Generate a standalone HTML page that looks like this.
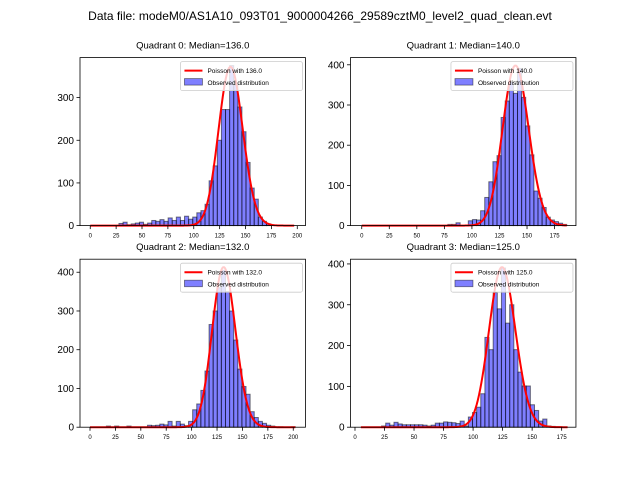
<!DOCTYPE html>
<html><head><meta charset="utf-8"><style>
body{margin:0;background:#fff;}
svg{display:block;font-family:"Liberation Sans","DejaVu Sans",sans-serif;}
</style></head><body>
<svg id="fig" width="640" height="480" viewBox="0 0 640 480">
<rect width="640" height="480" fill="#fff"/>
<text x="320" y="20" text-anchor="middle" font-size="12">Data file: modeM0/AS1A10_093T01_9000004266_29589cztM0_level2_quad_clean.evt</text>
</svg>
<script>
// ---- data ----
const q0Counts=[0,0,0,0,0,0,0,5,8,2,4,6,8,3,6,12,10,14,10,18,12,20,12,22,15,20,30,35,50,105,140,200,272,272,375,330,278,220,148,88,62,20,10,4,0,0,0,0,0,0];
const q1Counts=[0,0,0,0,0,0,0,0,0,0,0,0,0,0,0,0,0,0,0,0,0,3,3,7,0,0,12,15,14,37,70,109,159,174,269,310,358,329,391,319,248,176,86,68,45,21,14,10,6,3];
const q2Counts=[0,0,0,0,3,0,3,0,0,3,0,0,0,0,5,4,5,8,6,15,3,15,8,4,15,45,60,95,145,265,300,360,405,350,300,225,150,105,85,40,25,15,10,5,3,1,1,0,0,1];
const q3Counts=[0,0,0,0,0,3,10,5,12,8,6,6,6,6,6,5,3,5,10,10,13,12,11,9,15,3,25,36,49,82,220,190,330,290,390,255,300,190,135,101,101,55,41,15,20,3,2,1,0,0];
const medians=[136.0,140.0,132.0,125.0];
const curvePeaks=[372,398,413,392];
const binStarts=[0,0,0,5];
const binWidths=[3.96,3.72,4.04,3.5];
const curveRanges=[[0,197],[0,186],[0,202],[5,180]];
const xTicks=[[0,25,50,75,100,125,150,175,200],[0,25,50,75,100,125,150,175],[0,25,50,75,100,125,150,175,200],[0,25,50,75,100,125,150,175]];
const yTicks=[[0,100,200,300],[0,100,200,300,400],[0,100,200,300,400],[0,100,200,300,400]];
const xLims=[[-9.9,207.9],[-10.2,194.4],[-9.84,212],[-3.8,187.1]];
const allCounts=[q0Counts,q1Counts,q2Counts,q3Counts];

const NS="http://www.w3.org/2000/svg";
const svg=document.getElementById('fig');
function mk(tag,attrs,parent){const e=document.createElementNS(NS,tag);for(const k in attrs)e.setAttribute(k,attrs[k]);(parent||svg).appendChild(e);return e;}
function lgamma(n){let s=0;for(let i=2;i<=n;i++)s+=Math.log(i);return s;}
function pmf(k,l){return Math.exp(k*Math.log(l)-l-lgamma(k));}

const boxes=[[80,57.6],[350.5,57.6],[80,259.2],[350.5,259.2]];
const W=225.45,H=168;
for(let q=0;q<4;q++){
  const [L,T]=boxes[q];
  const counts=allCounts[q];
  const lam=medians[q];
  const scale=curvePeaks[q]/pmf(Math.floor(lam),lam);
  const cr=curveRanges[q];
  const pts=[];
  for(let k=cr[0];k<=cr[1];k++)pts.push([k,scale*pmf(k,lam)]);
  let ymax=Math.max(Math.max(...counts),Math.max(...pts.map(p=>p[1])))*1.05;
  const [x0,x1]=xLims[q];
  const X=v=>L+(v-x0)/(x1-x0)*W;
  const Y=v=>T+H-v/ymax*H;
  const g=mk('g',{});
  
  
  const title=mk('text',{x:L+W/2,y:T-9,'text-anchor':'middle','font-size':'9.5'},g);
  title.textContent='Quadrant '+q+': Median='+lam.toFixed(1);
  
  
  for(let i=0;i<counts.length;i++){
    if(counts[i]<=0)continue;
    const a=binStarts[q]+i*binWidths[q],b=a+binWidths[q];
    const r=mk('rect',{x:X(a),y:Y(counts[i]),width:X(b)-X(a),height:Y(0)-Y(counts[i]),fill:'rgba(0,0,255,0.5)',stroke:'rgba(0,0,0,0.5)','stroke-width':'1'},g);
    
    
  }
  const pl=mk('polyline',{points:pts.map(p=>X(p[0]).toFixed(2)+','+Y(p[1]).toFixed(2)).join(' '),fill:'none',stroke:'#ff0000','stroke-width':'2','stroke-linejoin':'round'},g);
  
  
  const fr=mk('rect',{x:L,y:T,width:W,height:H,fill:'none',stroke:'#000','stroke-width':'0.8'},g);
  
  
  for(const t of xTicks[q]){
    mk('line',{x1:X(t),x2:X(t),y1:T+H,y2:T+H+3.5,stroke:'#000','stroke-width':'0.8'},g);
    const tx=mk('text',{x:X(t),y:T+H+12,'text-anchor':'middle','font-size':'6'},g);
    tx.textContent=t;
    
    
  }
  for(const t of yTicks[q]){
    mk('line',{x1:L-3.5,x2:L,y1:Y(t),y2:Y(t),stroke:'#000','stroke-width':'0.8'},g);
    const ty=mk('text',{x:L-6,y:Y(t)+3.5,'text-anchor':'end','font-size':'10'},g);
    ty.textContent=t;
    
    
  }
  const lg=mk('g',{},g);
  
  
  const lx=L+W-125,ly=T+4;
  mk('rect',{x:lx,y:ly,width:122,height:29,fill:'rgba(255,255,255,0.8)',stroke:'#ccc','stroke-width':'0.8',rx:'2'},lg);
  mk('line',{x1:lx+4,x2:lx+22,y1:ly+9,y2:ly+9,stroke:'#ff0000','stroke-width':'2'},lg);
  const t1=mk('text',{x:lx+27,y:ly+11.5,'font-size':'6.5'},lg);
  t1.textContent='Poisson with '+lam.toFixed(1);
  
  
  mk('rect',{x:lx+4,y:ly+17,width:18,height:6.5,fill:'rgba(0,0,255,0.5)',stroke:'rgba(0,0,0,0.5)','stroke-width':'0.8'},lg);
  const t2=mk('text',{x:lx+27,y:ly+23.5,'font-size':'6.5'},lg);
  t2.textContent='Observed distribution';
  
  
}
</script>
</body></html>
